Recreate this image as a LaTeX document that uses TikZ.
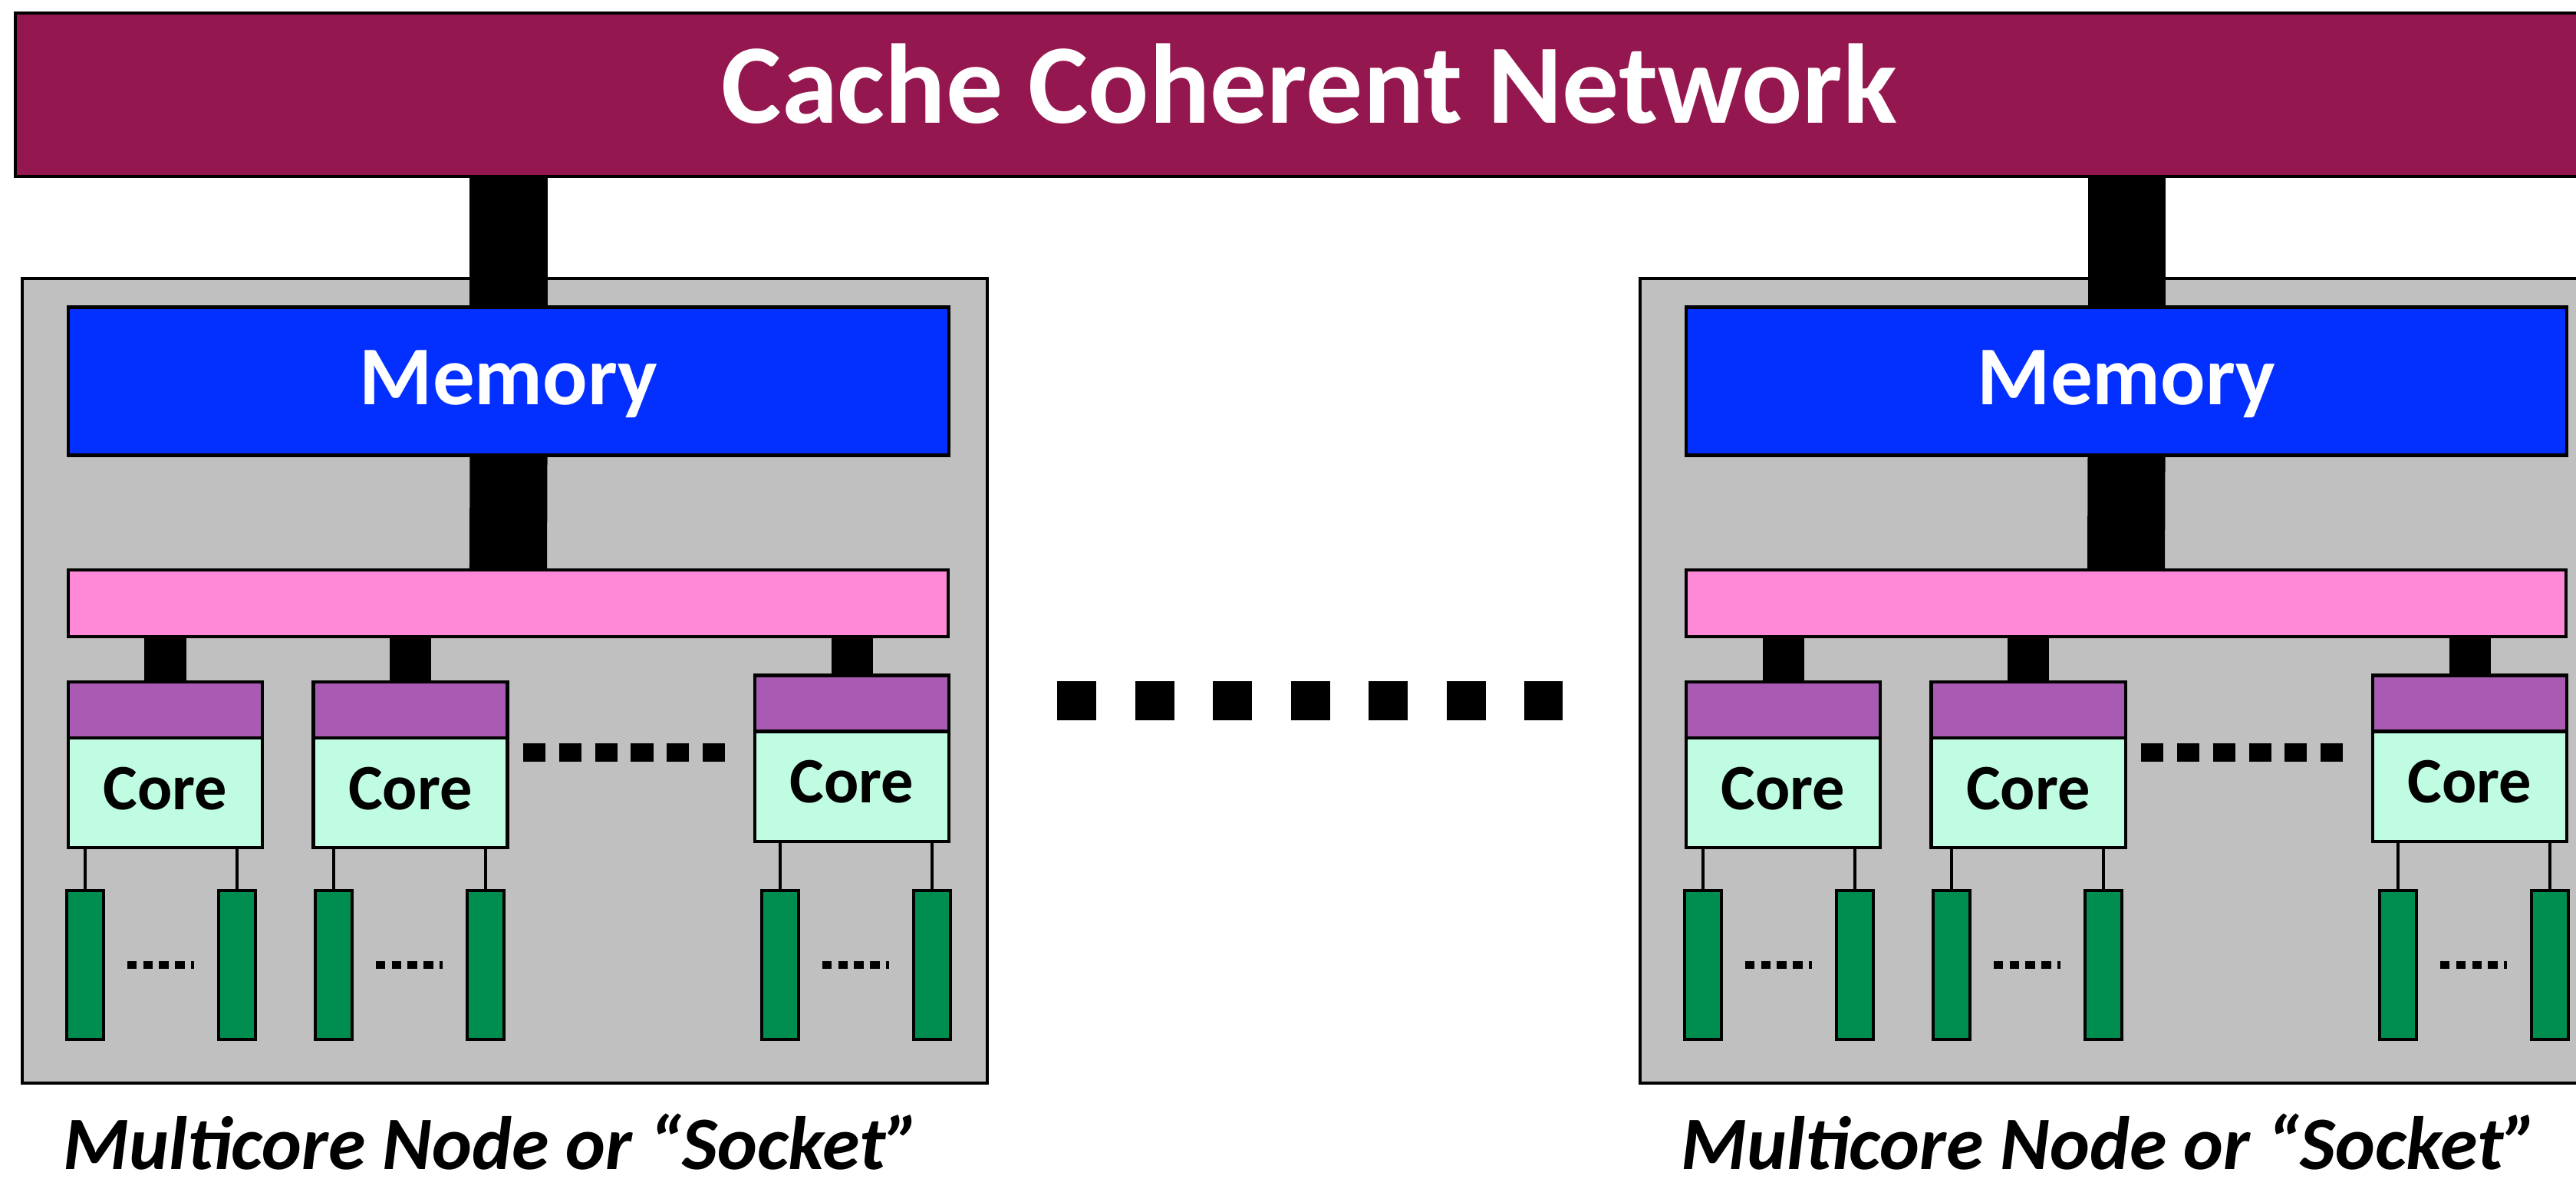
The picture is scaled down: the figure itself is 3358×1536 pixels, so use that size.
\documentclass[tikz,border=0pt]{standalone}
\usepackage{fontspec}
\setmainfont{Carlito}
\usetikzlibrary{positioning}

\definecolor{netRed}{RGB}{149,23,79}
\definecolor{sockGray}{RGB}{192,192,192}
\definecolor{memBlue}{RGB}{4,48,255}
\definecolor{busPink}{RGB}{255,137,214}
\definecolor{cachePurple}{RGB}{169,91,179}
\definecolor{coreMint}{RGB}{192,252,226}
\definecolor{dimmGreen}{RGB}{0,142,80}

\begin{document}
\begin{tikzpicture}[x=0.01cm, y=-0.01cm, line width=1.2pt, inner sep=0pt, outer sep=0pt]
	\tikzstyle{Block}=[draw, line width=1.2pt]
	\tikzstyle{BigLink}=[line width=1.01cm]
	\tikzstyle{SmallLink}=[line width=0.54cm]
	\tikzstyle{Dots}=[line width=0.24cm, dash pattern=on 0.29cm off 0.178cm]
	\tikzstyle{TinyDots}=[line width=0.1cm, dash pattern=on 0.124cm off 0.083cm]

	\clip (0,0) rectangle (3358,1536);

	% interconnect on top
	\node at (1707,123.5) [Block, fill=netRed, minimum width=33.72cm, minimum height=2.13cm] (net) {};
	\node at (1707,109) [white, font=\bfseries\fontsize{42}{50}\selectfont] (netLabel) {Cache Coherent Network};

	% more sockets
	\draw[line width=0.51cm, dash pattern=on 0.51cm off 0.505cm] (1378,913.5) -- (2037,913.5);

	\foreach \s/\dx in {L/0, R/2109} {
		\node at (\dx+658,887.5) [Block, fill=sockGray, minimum width=12.58cm, minimum height=10.49cm] (sock\s) {};
		\node at (\dx+663,497) [Block, fill=memBlue, minimum width=11.48cm, minimum height=1.93cm,
			text=white, text depth=0.1cm, font=\bfseries\fontsize{31}{37}\selectfont] (mem\s) {Memory};
		\node at (\dx+662.5,786.5) [Block, fill=busPink, minimum width=11.47cm, minimum height=0.87cm] (bus\s) {};

		% cores with their caches
		\foreach \k/\cx/\cy in {1/215.5/925.5, 2/535/925.5, 3/1110.5/917} {
			\node at (\dx+\cx,\cy) [Block, fill=cachePurple, minimum width=2.53cm, minimum height=0.73cm] (cache\s\k) {};
			\node [Block, fill=coreMint, anchor=north, minimum width=2.53cm, minimum height=1.43cm,
				text depth=0.12cm, font=\bfseries\fontsize{24}{29}\selectfont] at (cache\s\k.south) (core\s\k) {Core};
			\draw[SmallLink] (bus\s.south -| cache\s\k.north) -- (cache\s\k.north);
		}

		% memory channels
		\foreach \k/\bx in {1/111, 2/309, 3/435, 4/633, 5/1017, 6/1215}
			\node at (\dx+\bx,1258) [Block, fill=dimmGreen, minimum width=0.48cm, minimum height=1.94cm] (dimm\s\k) {};

		\foreach \k/\a/\b in {1/1/2, 2/3/4, 3/5/6} {
			\draw (core\s\k.south -| dimm\s\a.north) -- (dimm\s\a.north);
			\draw (core\s\k.south -| dimm\s\b.north) -- (dimm\s\b.north);
			\draw[TinyDots, shorten <=0.31cm, shorten >=0.32cm] (dimm\s\a.east) -- (dimm\s\b.west);
		}

		\draw[Dots] (\dx+682,981) -- (\dx+945,981);

		\draw[BigLink] (net.south -| mem\s.north) -- (mem\s.north);
		\draw[BigLink] (mem\s.south) -- (bus\s.north);

		\node at (\dx+641,1524) [anchor=base, font=\bfseries\itshape\fontsize{28}{34}\selectfont] (caption\s) {Multicore Node or “Socket”};
	}
\end{tikzpicture}
\end{document}
